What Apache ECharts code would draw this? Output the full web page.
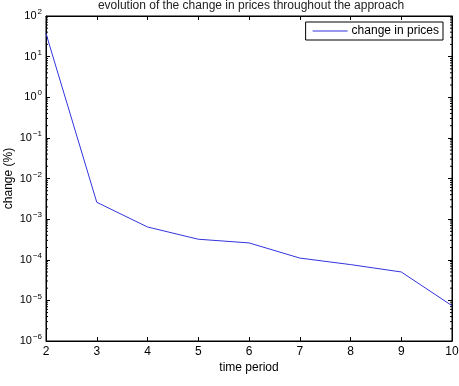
<!DOCTYPE html>
<html>
<head>
<meta charset="utf-8">
<script src="https://cdn.jsdelivr.net/npm/echarts@6/dist/echarts.min.js"></script>
<style>
html, body { margin: 0; padding: 0; background: #fff; }
#chart { width: 459px; height: 386px; }
</style>
</head>
<body>
<div id="chart"></div>
<script>
var periods = [2, 3, 4, 5, 6, 7, 8, 9, 10];
var changes = [37, 2.6e-3, 6.4e-4, 3.2e-4, 2.6e-4, 1.1e-4, 7.6e-5, 5.0e-5, 7.4e-6];

var myChart = echarts.init(document.getElementById('chart'));

var font = 'Liberation Sans, Arial, sans-serif';

// 10^n labels for the log axis
function powLabel(v) {
    var e = Math.round(Math.log(v) / Math.LN10);
    return '10{sup|' + (e < 0 ? '\u2212' + (-e) : e) + '}';
}

// log-axis minor ticks (2..9 in each decade), drawn as a decoration
var minorTicks = [];
for (var e = -6; e < 2; e++) {
    for (var m = 2; m <= 9; m++) minorTicks.push([2, m * Math.pow(10, e)]);
}

var tickStyle = { show: true, inside: true, length: 4, lineStyle: { color: '#000' } };

var option = {
    animation: false,
    textStyle: { fontFamily: font },
    title: {
        text: 'evolution of the change in prices throughout the approach',
        left: 246,
        textAlign: 'center',
        top: -5,
        textStyle: { fontSize: 12, fontWeight: 'normal', color: '#222', fontFamily: font }
    },
    legend: {
        right: 16,
        top: 22,
        orient: 'vertical',
        icon: 'rect',
        itemWidth: 35,
        itemHeight: 1,
        itemGap: 4,
        padding: [3, 4, 3, 7],
        borderColor: '#000',
        borderWidth: 1,
        backgroundColor: '#fff',
        textStyle: { fontSize: 12, color: '#000', fontFamily: font, padding: [0, 0, 0, -1] },
        data: ['change in prices']
    },
    grid: {
        left: 46,
        right: 7,
        top: 16,
        bottom: 45,
        outerBoundsMode: 'none',
        containLabel: false,
        show: true,
        borderColor: '#000',
        borderWidth: 1
    },
    xAxis: [{
        type: 'value',
        min: 2,
        max: 10,
        interval: 1,
        name: 'time period',
        nameLocation: 'middle',
        nameGap: 21,
        nameMoveOverlap: false,
        nameTextStyle: { fontSize: 12, color: '#000', fontFamily: font },
        axisLine: { show: true, lineStyle: { color: '#000' } },
        axisTick: tickStyle,
        axisLabel: { fontSize: 12, color: '#000', margin: 5 },
        splitLine: { show: false }
    }, {
        type: 'value',
        position: 'top',
        min: 2,
        max: 10,
        interval: 1,
        axisLine: { show: true, lineStyle: { color: '#000' } },
        axisTick: tickStyle,
        axisLabel: { show: false },
        splitLine: { show: false }
    }],
    yAxis: [{
        type: 'log',
        logBase: 10,
        min: 1e-6,
        max: 100,
        name: 'change (%)',
        nameLocation: 'middle',
        nameGap: 31,
        nameMoveOverlap: false,
        nameTextStyle: { fontSize: 12, color: '#000', fontFamily: font },
        axisLine: { show: true, lineStyle: { color: '#000' } },
        axisTick: tickStyle,
        axisLabel: {
            fontSize: 11,
            color: '#000',
            margin: 4,
            formatter: powLabel,
            rich: { sup: { fontSize: 8, verticalAlign: 'top', padding: [0, 0, 8, 1], fontFamily: font } }
        },
        splitLine: { show: false }
    }, {
        type: 'log',
        logBase: 10,
        position: 'right',
        min: 1e-6,
        max: 100,
        axisLine: { show: true, lineStyle: { color: '#000' } },
        axisTick: tickStyle,
        axisLabel: { show: false },
        splitLine: { show: false }
    }],
    series: [{
        name: 'change in prices',
        type: 'line',
        symbol: 'none',
        lineStyle: { color: '#3333dd', width: 1 },
        itemStyle: { color: '#3333dd' },
        data: periods.map(function (p, i) { return [p, changes[i]]; })
    }, {
        type: 'custom',
        silent: true,
        data: minorTicks,
        renderItem: function (params, api) {
            var l = api.coord([2, api.value(1)]);
            var r = api.coord([10, api.value(1)]);
            var st = { stroke: '#000', lineWidth: 1 };
            return {
                type: 'group',
                children: [
                    { type: 'line', shape: { x1: l[0], y1: l[1], x2: l[0] + 2, y2: l[1] }, style: st },
                    { type: 'line', shape: { x1: r[0] - 2, y1: r[1], x2: r[0], y2: r[1] }, style: st }
                ]
            };
        }
    }]
};

myChart.setOption(option);
</script>
</body>
</html>
